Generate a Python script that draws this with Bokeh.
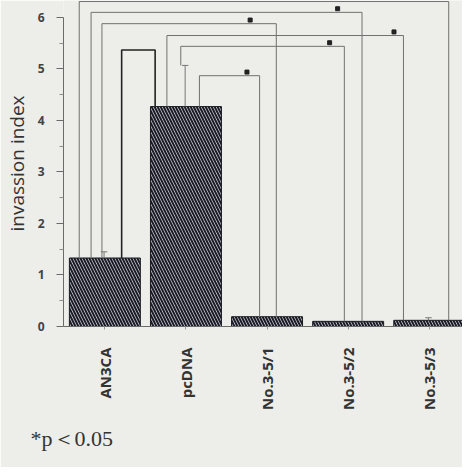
import math
from bokeh.plotting import figure
from bokeh.models import Range1d, FixedTicker, Title
from bokeh.embed import file_html
from bokeh.resources import INLINE

# ---- data ----
categories = ["AN3CA", "pcDNA", "No.3-5/1", "No.3-5/2", "No.3-5/3"]
invasion = [1.33, 4.27, 0.19, 0.10, 0.12]
errors = [0.12, 0.80, 0.0, 0.0, 0.05]
# brackets: (left bar, right bar, height, significant)
bracket_left = [0, 0, 0, 0, 1, 1, 1]
bracket_right = [4, 3, 2, 1, 4, 3, 2]
bracket_height = [6.31, 6.10, 5.88, 5.37, 5.65, 5.44, 4.87]
bracket_sig = [False, True, True, False, True, True, True]
y_ticks = [0, 1, 2, 3, 4, 5, 6]

# ---- layout (positions / styles) ----
BG = "#edede9"
leg_off_left = [-0.316, -0.17, -0.036, 0.207, -0.235, -0.064, 0.166]
leg_off_right = [0.24, 0.171, 0.114, -0.38, -0.318, -0.047, -0.092]
star_frac = [0.9, 0.91, 0.85, 0.5, 0.96, 0.91, 0.79]
bar_w = 0.875

xs = list(range(len(categories)))

p = figure(width=462, height=467, output_backend="svg", toolbar_location=None,
           x_range=Range1d(-0.51, 4.41), y_range=Range1d(0, 6.33),
           min_border_left=57, min_border_right=0, min_border_top=0,
           min_border_bottom=141)
p.background_fill_color = BG
p.border_fill_color = BG
p.outline_line_color = None
p.grid.visible = False

# bars
p.vbar(x=xs, top=invasion, width=bar_w, bottom=0,
       fill_color="#d4d4d8", line_color="#1a1a22", line_width=1,
       hatch_pattern="left_diagonal_line", hatch_color="#1c1c28",
       hatch_scale=6, hatch_weight=2)

# error bars
ex, ey0, ey1 = [], [], []
for i, (v, e) in enumerate(zip(invasion, errors)):
    if e > 0:
        ex.append(i - 0.01)
        ey0.append(v)
        ey1.append(v + e)
p.segment(x0=ex, y0=ey0, x1=ex, y1=ey1, line_color="#777777", line_width=1)
p.segment(x0=[x - 0.04 for x in ex], y0=ey1, x1=[x + 0.04 for x in ex], y1=ey1,
          line_color="#777777", line_width=1)

# brackets
for k in range(len(bracket_height)):
    a, b, h = bracket_left[k], bracket_right[k], bracket_height[k]
    xl = a + leg_off_left[k]
    xr = b + leg_off_right[k]
    fl = invasion[a]
    if a == 1 and k == 5:
        fl = invasion[a] + errors[a]
    fr = invasion[b]
    dark = (k == 3)
    p.line(x=[xl, xl, xr, xr], y=[fl, h, h, fr],
           line_color="#222222" if dark else "#707070",
           line_width=1.6 if dark else 1)
    if bracket_sig[k]:
        sx = xl + star_frac[k] * (xr - xl)
        p.scatter(x=[sx], y=[h + 0.07], marker="square", size=4,
                  fill_color="#222222", line_color="#222222")

# y axis
yax = p.yaxis[0]
yax.ticker = FixedTicker(ticks=y_ticks, minor_ticks=[0.5 + t for t in y_ticks[:-1]])
yax.bounds = (0, 6)
yax.axis_line_color = "#6a6a6a"
yax.major_tick_line_color = "#6a6a6a"
yax.minor_tick_line_color = "#8a8a8a"
yax.major_tick_out = 7
yax.major_tick_in = 0
yax.minor_tick_out = 4
yax.minor_tick_in = 0
yax.major_label_text_font = "Open Sans"
yax.major_label_text_font_style = "bold"
yax.major_label_text_font_size = "12px"
yax.major_label_text_color = "#444444"
yax.major_label_standoff = 12
yax.axis_label = "invassion index"
yax.axis_label_text_font = "Open Sans"
yax.axis_label_text_font_style = "normal"
yax.axis_label_text_font_size = "19px"
yax.axis_label_text_color = "#333333"
yax.axis_label_standoff = 5

# x axis
xax = p.xaxis[0]
xax.ticker = FixedTicker(ticks=xs, minor_ticks=[])
xax.major_label_overrides = {i: c for i, c in enumerate(categories)}
xax.major_label_orientation = math.pi / 2
xax.axis_line_color = "#6a6a6a"
xax.major_tick_line_color = "#9a9a9a"
xax.major_tick_out = 3
xax.major_tick_in = 0
xax.major_label_text_font = "Open Sans"
xax.major_label_text_font_style = "bold"
xax.major_label_text_font_size = "15px"
xax.major_label_text_color = "#333333"
xax.major_label_standoff = 18

# p-value note
p.add_layout(Title(text="*p＜0.05", align="left", offset=-33, standoff=20,
                   text_font="Liberation Serif", text_font_size="22px",
                   text_font_style="normal", text_color="#333333"), "below")

open("out.html", "w").write(file_html(p, INLINE))
